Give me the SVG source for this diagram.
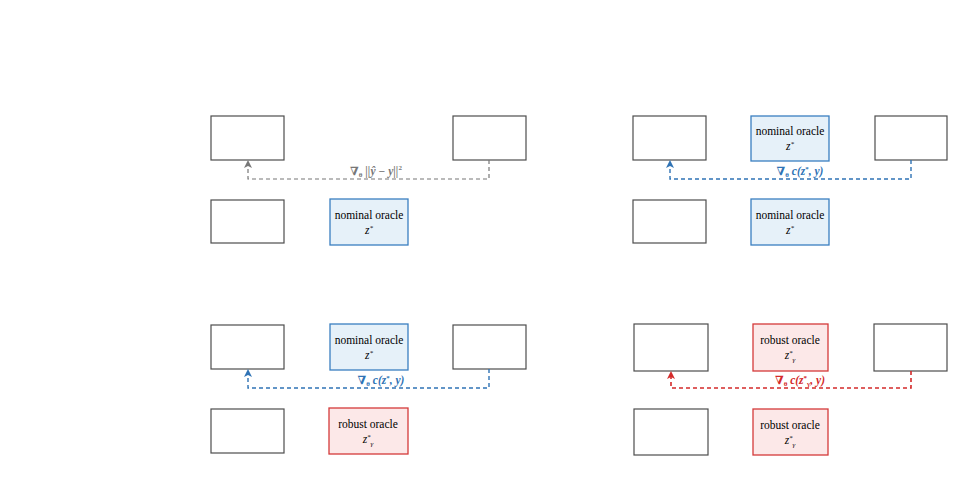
<svg xmlns="http://www.w3.org/2000/svg" width="976" height="504" viewBox="0 0 976 504">
<style>
.b{fill:none;stroke:#4d4d4d;stroke-width:1.2}
.nom{fill:#e6f1f9;stroke:#3a7fc0;stroke-width:1.3}
.rob{fill:#fce8e8;stroke:#d43a3a;stroke-width:1.3}
text{font-family:"Liberation Serif","DejaVu Serif",serif;font-size:11.5px;text-anchor:middle}
.m{font-style:italic}
.g{stroke:#777;fill:none;stroke-dasharray:4,3;stroke-width:1.2}
.bl{stroke:#2f73b5;fill:none;stroke-dasharray:4,3;stroke-width:1.4}
.rd{stroke:#d42a2a;fill:none;stroke-dasharray:4,3;stroke-width:1.6}
</style>
<defs>
<marker id="ag" markerWidth="8" markerHeight="8" refX="7" refY="4" orient="auto" markerUnits="userSpaceOnUse"><path d="M0,0 L8,4 L0,8 L2,4 Z" fill="#777"/></marker>
<marker id="ab" markerWidth="8" markerHeight="8" refX="7" refY="4" orient="auto" markerUnits="userSpaceOnUse"><path d="M0,0 L8,4 L0,8 L2,4 Z" fill="#2f73b5"/></marker>
<marker id="ar" markerWidth="8" markerHeight="8" refX="7" refY="4" orient="auto" markerUnits="userSpaceOnUse"><path d="M0,0 L8,4 L0,8 L2,4 Z" fill="#d42a2a"/></marker>
</defs>
<g id="p1">
<rect id="p1a" class="b" x="211" y="116" width="73" height="44"/>
<rect id="p1b" class="b" x="453" y="116" width="73" height="44"/>
<rect id="p1c" class="b" x="211" y="200" width="73" height="43"/>
<g id="p1n"><rect class="nom" x="330" y="199" width="78" height="46"/><text x="369" y="219">nominal oracle</text><text class="m" x="369" y="234">z<tspan font-size="7" dy="-4">*</tspan></text></g>
</g>
<g id="p2">
<rect id="p2a" class="b" x="633" y="116" width="73" height="44"/>
<g id="p2n1"><rect class="nom" x="751" y="116" width="78" height="45"/><text x="790" y="135">nominal oracle</text><text class="m" x="790" y="150">z<tspan font-size="7" dy="-4">*</tspan></text></g>
<rect id="p2b" class="b" x="875" y="116" width="72" height="44"/>
<rect id="p2c" class="b" x="633" y="200" width="73" height="43"/>
<g id="p2n2"><rect class="nom" x="751" y="199" width="78" height="46"/><text x="790" y="219">nominal oracle</text><text class="m" x="790" y="234">z<tspan font-size="7" dy="-4">*</tspan></text></g>
</g>
<g id="p3">
<rect id="p3a" class="b" x="211" y="325" width="73" height="44"/>
<g id="p3n"><rect class="nom" x="330" y="324" width="78" height="46"/><text x="369" y="344">nominal oracle</text><text class="m" x="369" y="359">z<tspan font-size="7" dy="-4">*</tspan></text></g>
<rect id="p3b" class="b" x="453" y="325" width="73" height="44"/>
<rect id="p3c" class="b" x="211" y="409" width="73" height="44"/>
<g id="p3r"><rect class="rob" x="329" y="408" width="79" height="46"/><text x="368" y="428">robust oracle</text><text class="m" x="368" y="443">z<tspan font-size="7" dy="-4">*</tspan><tspan font-size="7" dy="7">γ</tspan></text></g>
</g>
<g id="p4">
<rect id="p4a" class="b" x="634" y="324" width="74" height="47"/>
<g id="p4r1"><rect class="rob" x="753" y="324" width="75" height="47"/><text x="790" y="344">robust oracle</text><text class="m" x="790" y="359">z<tspan font-size="7" dy="-4">*</tspan><tspan font-size="7" dy="7">γ</tspan></text></g>
<rect id="p4b" class="b" x="874" y="324" width="73" height="47"/>
<rect id="p4c" class="b" x="634" y="409" width="74" height="46"/>
<g id="p4r2"><rect class="rob" x="753" y="409" width="75" height="46"/><text x="790" y="429">robust oracle</text><text class="m" x="790" y="444">z<tspan font-size="7" dy="-4">*</tspan><tspan font-size="7" dy="7">γ</tspan></text></g>
</g>
<g id="connectors">
<path class="g" d="M489,160 V179 H248 V161" marker-end="url(#ag)"/>
<path class="bl" d="M911,160 V179 H670 V161" marker-end="url(#ab)"/>
<path class="bl" d="M489,369 V388 H248 V370" marker-end="url(#ab)"/>
<path class="rd" d="M911,371 V388 H671 V372" marker-end="url(#ar)"/>
<text x="376" y="175" fill="#777" font-weight="bold">∇<tspan font-size="7" dy="2">θ</tspan><tspan dy="-2" font-style="italic"> ||ŷ − y||</tspan><tspan font-size="7" dy="-5">2</tspan></text>
<text x="800" y="175" fill="#2f73b5" font-weight="bold">∇<tspan font-size="7" dy="2">θ</tspan><tspan dy="-2" font-style="italic"> c(z</tspan><tspan font-size="7" dy="-4">*</tspan><tspan dy="4" font-style="italic">, y)</tspan></text>
<text x="381" y="384" fill="#2f73b5" font-weight="bold">∇<tspan font-size="7" dy="2">θ</tspan><tspan dy="-2" font-style="italic"> c(z</tspan><tspan font-size="7" dy="-4">*</tspan><tspan dy="4" font-style="italic">, y)</tspan></text>
<text x="800" y="384" fill="#d42a2a" font-weight="bold">∇<tspan font-size="7" dy="2">θ</tspan><tspan dy="-2" font-style="italic"> c(z</tspan><tspan font-size="7" dy="-4">*</tspan><tspan font-size="7" dy="6">γ</tspan><tspan dy="-2" font-style="italic">, y)</tspan></text>
</g>
</svg>
